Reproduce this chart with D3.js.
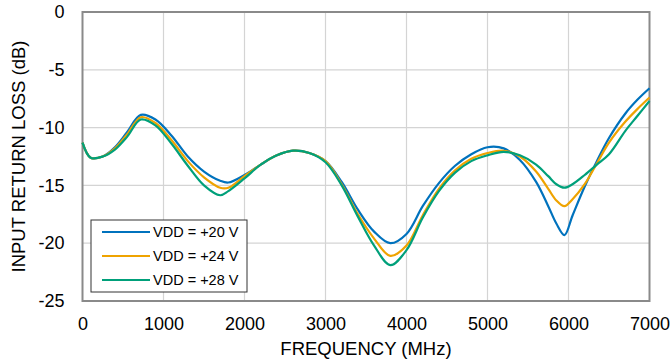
<!DOCTYPE html>
<html>
<head>
<meta charset="utf-8">
<script src="https://d3js.org/d3.v7.min.js"></script>
<style>
  body { margin: 0; background: #fff; }
  text { font-family: "Liberation Sans", Arial, sans-serif; fill: #000; }
</style>
</head>
<body>
<svg id="chart" width="670" height="360"></svg>
<script>
// data
const freq = [0, 100, 250, 400, 550, 720, 900, 1100, 1300, 1500, 1700, 1800, 2000, 2200, 2400, 2600, 2800, 3000, 3200, 3400, 3600, 3800, 4000, 4200, 4400, 4600, 4800, 5000, 5200, 5400, 5600, 5750, 5850, 5950, 6050, 6200, 6350, 6500, 6700, 6850, 7000];
const vdd20 = [-11.3, -12.6, -12.5, -11.7, -10.4, -8.9, -9.3, -10.7, -12.5, -13.8, -14.6, -14.75, -14.1, -13.2, -12.4, -12.0, -12.2, -12.9, -14.7, -17.1, -19.0, -20.0, -19.2, -16.8, -14.8, -13.3, -12.3, -11.7, -11.8, -12.8, -14.7, -16.8, -18.3, -19.3, -17.6, -15.1, -12.9, -10.9, -8.8, -7.6, -6.6];
const vdd24 = [-11.3, -12.6, -12.5, -11.8, -10.6, -9.1, -9.6, -11.1, -12.9, -14.3, -15.2, -15.2, -14.2, -13.2, -12.4, -12.0, -12.2, -12.9, -14.9, -17.5, -19.6, -21.1, -20.2, -17.6, -15.3, -13.7, -12.7, -12.2, -12.0, -12.5, -13.8, -15.3, -16.3, -16.8, -16.2, -14.9, -13.1, -11.3, -9.5, -8.4, -7.4];
const vdd28 = [-11.3, -12.6, -12.5, -11.9, -10.8, -9.3, -9.8, -11.4, -13.3, -15.0, -15.85, -15.5, -14.4, -13.2, -12.4, -12.0, -12.2, -13.0, -15.0, -17.7, -20.2, -21.9, -20.6, -17.8, -15.5, -13.9, -12.9, -12.4, -12.1, -12.4, -13.2, -14.2, -14.9, -15.2, -14.9, -14.1, -13.2, -12.3, -10.3, -9.0, -7.7];
const seriesNames = ["VDD = +20 V", "VDD = +24 V", "VDD = +28 V"];
const seriesColors = ["#0072BD", "#EFA300", "#00A07A"];
const xTicks = [0, 1000, 2000, 3000, 4000, 5000, 6000, 7000];
const yTicks = [0, -5, -10, -15, -20, -25];

const svg = d3.select("#chart");
const mLeft = 82.5, mRight = 649.5, mTop = 12, mBottom = 301;

const x = d3.scaleLinear().domain([0, 7000]).range([mLeft, mRight]);
const y = d3.scaleLinear().domain([-25, 0]).range([mBottom, mTop]);

// grid
svg.append("g").selectAll("line").data(xTicks.slice(1, -1)).join("line")
  .attr("x1", d => x(d)).attr("x2", d => x(d))
  .attr("y1", mTop).attr("y2", mBottom)
  .attr("stroke", "#d4d4d4").attr("stroke-width", 1.2);
svg.append("g").selectAll("line").data(yTicks.slice(1, -1)).join("line")
  .attr("x1", mLeft).attr("x2", mRight)
  .attr("y1", d => y(d)).attr("y2", d => y(d))
  .attr("stroke", "#d4d4d4").attr("stroke-width", 1.2);

// frame
svg.append("rect")
  .attr("x", mLeft).attr("y", mTop)
  .attr("width", mRight - mLeft).attr("height", mBottom - mTop)
  .attr("fill", "none").attr("stroke", "#8a8a8a").attr("stroke-width", 2);

// axes labels
const fmt = d => String(d);
const xAxis = d3.axisBottom(x).tickValues(xTicks).tickFormat(fmt).tickSize(0).tickPadding(16);
svg.append("g").attr("transform", `translate(0,${mBottom})`).call(xAxis)
  .call(g => g.select(".domain").remove())
  .selectAll("text").style("font-size", "18px").attr("font-family", null);

const yAxis = d3.axisLeft(y).tickValues(yTicks).tickFormat(fmt).tickSize(0).tickPadding(18);
svg.append("g").attr("transform", `translate(${mLeft},0)`).call(yAxis)
  .call(g => g.select(".domain").remove())
  .selectAll("text").style("font-size", "18px").attr("font-family", null);

svg.append("text")
  .attr("x", (mLeft + mRight) / 2).attr("y", 355)
  .attr("text-anchor", "middle").style("font-size", "18.5px")
  .text("FREQUENCY (MHz)");

svg.append("text")
  .attr("transform", `translate(25,${(mTop + mBottom) / 2}) rotate(-90)`)
  .attr("text-anchor", "middle").style("font-size", "18.5px")
  .text("INPUT RETURN LOSS (dB)");

// curves
const line = d3.line()
  .x((d, i) => x(freq[i]))
  .y(d => y(d))
  .curve(d3.curveCatmullRom.alpha(0.5));

[vdd20, vdd24, vdd28].forEach((s, i) => {
  svg.append("path")
    .datum(s)
    .attr("fill", "none")
    .attr("stroke", seriesColors[i])
    .attr("stroke-width", 2.2)
    .attr("d", line);
});

// legend
const lg = svg.append("g").attr("transform", "translate(91,220)");
lg.append("rect").attr("width", 156).attr("height", 72)
  .attr("fill", "#fff").attr("stroke", "#333").attr("stroke-width", 1);
seriesNames.forEach((n, i) => {
  const yy = 12 + i * 24;
  lg.append("line").attr("x1", 11).attr("x2", 59).attr("y1", yy).attr("y2", yy)
    .attr("stroke", seriesColors[i]).attr("stroke-width", 2.2);
  lg.append("text").attr("x", 62).attr("y", yy + 5)
    .style("font-size", "14.5px").text(n);
});
</script>
</body>
</html>
